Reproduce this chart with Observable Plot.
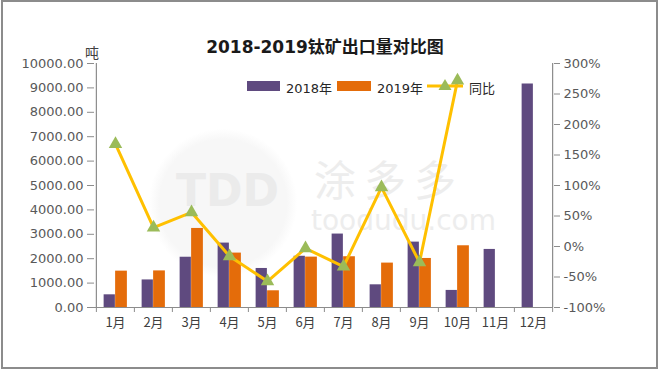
<!DOCTYPE html>
<html>
<head>
<meta charset="utf-8">
<script src="https://cdn.jsdelivr.net/npm/d3@7"></script>
<script src="https://cdn.jsdelivr.net/npm/@observablehq/plot@0.6"></script>
<style>
  html, body { margin: 0; padding: 0; background: #fff; }
  #wrap { position: relative; width: 660px; height: 370px; overflow: hidden; font-family: "DejaVu Sans", "Noto Sans CJK SC", sans-serif; }
  #wrap svg.plot { position: absolute; left: 0; top: 0; }
  .abs { position: absolute; white-space: nowrap; }
  #frame { position: absolute; left: 1px; top: 0px; width: 653px; height: 365px; border: 2px solid #8c8c8c; }
  #title { left: 0; width: 650px; top: 33px; text-align: center; font-size: 17px; font-weight: bold; color: #1a1a1a; }
  #unit { left: 85px; top: 42px; font-size: 14px; color: #404040; font-family: "Noto Sans CJK SC", sans-serif; }
  .lg { font-size: 13px; color: #262626; top: 78px; }
  .sw { position: absolute; height: 10px; top: 81px; }
  .wm { position: absolute; color: #eeeeee; white-space: nowrap; }
</style>
</head>
<body>
<div id="wrap">
  <div class="wm" style="left:148px;top:128px;width:150px;height:150px;border-radius:50%;border:0;background:radial-gradient(circle, #f7f7f7 0%, #f7f7f7 60%, rgba(255,255,255,0) 70%);"></div>
  <div class="wm" style="left:176px;top:166px;font-size:44px;line-height:50px;font-weight:bold;font-family:'DejaVu Sans';color:#ebebeb;">TDD</div>
  <div class="wm" style="left:314px;top:156px;font-size:42px;line-height:44px;font-family:'Noto Sans CJK SC';color:#ededed;letter-spacing:8px;">涂多多</div>
  <div class="wm" style="left:311px;top:207px;font-size:28px;line-height:28px;font-family:'DejaVu Sans';color:#ededed;">toodudu.com</div>
  <div id="chart"></div>
  <div id="frame"></div>
  <div id="title" class="abs">2018-2019钛矿出口量对比图</div>
  <div id="unit" class="abs">吨</div>
  <div class="sw" style="left:247px;width:33px;background:#5f4a7f;"></div>
  <div class="abs lg" style="left:286px;">2018年</div>
  <div class="sw" style="left:337px;width:34px;background:#e46c0a;"></div>
  <div class="abs lg" style="left:377px;">2019年</div>
  <svg class="abs" style="left:425px;top:74px;" width="40" height="24">
    <line x1="2" y1="12" x2="38" y2="12" stroke="#ffc000" stroke-width="3"/>
    <path d="M20,5 L26.5,16 L13.5,16 Z" fill="#9bbb59"/>
  </svg>
  <div class="abs lg" style="left:469px;">同比</div>
</div>
<script>
const months = ["1月","2月","3月","4月","5月","6月","7月","8月","9月","10月","11月","12月"];
const v2018 = [520, 1130, 2060, 2640, 1600, 2100, 3010, 930, 2680, 700, 2380, 9160];
const v2019 = [1490, 1500, 3240, 2230, 685, 2065, 2080, 1820, 2010, 2530, null, null];
const yoy = [168, 31, 56, -16, -57, -3, -33, 97, -26, 272];
const leftTicks = [0,1000,2000,3000,4000,5000,6000,7000,8000,9000,10000];
const rightTicks = [-100,-50,0,50,100,150,200,250,300];

const W = 660, H = 370, mL = 94, mR = 107, mT = 63, mB = 63;
const step = (W - mL - mR) / months.length;
const barW = 11.5;
const toLeft = p => (p + 100) * 25; // map percent onto the left (tonnage) scale

const bars18 = months.map((m, i) => ({m, v: v2018[i]})).filter(d => d.v != null);
const bars19 = months.map((m, i) => ({m, v: v2019[i]})).filter(d => d.v != null);
const line = yoy.map((p, i) => ({m: months[i], p}));

const half = step / 2;
const chart = Plot.plot({
  width: W, height: H,
  marginLeft: mL, marginRight: mR, marginTop: mT, marginBottom: mB,
  style: {fontFamily: "'DejaVu Sans', 'Noto Sans CJK SC', sans-serif", fontSize: "13px", background: "transparent"},
  x: {domain: months, padding: 0, axis: null},
  y: {domain: [0, 10000], axis: null},
  marks: [
    Plot.barY(bars18, {x: "m", y: "v", fill: "#5f4a7f", insetLeft: half - barW, insetRight: half}),
    Plot.barY(bars19, {x: "m", y: "v", fill: "#e46c0a", insetLeft: half, insetRight: half - barW - 0.5}),
    Plot.ruleY([0], {stroke: "#8c8c8c", strokeWidth: 1.2}),
    Plot.ruleX([months[0]], {dx: -half, stroke: "#8c8c8c", strokeWidth: 1.2}),
    Plot.ruleX([months[11]], {dx: half, stroke: "#8c8c8c", strokeWidth: 1.2}),
    Plot.axisY({anchor: "left", ticks: leftTicks, tickFormat: d3.format(".2f"), tickSize: 7, tickPadding: 4, label: null, stroke: "#8c8c8c", fill: "#595959", fontSize: 13}),
    Plot.axisY({anchor: "right", ticks: rightTicks.map(toLeft), tickFormat: d => Math.round(d / 25 - 100) + "%", tickSize: 6, tickPadding: 4, label: null, stroke: "#8c8c8c", fill: "#595959", fontSize: 13}),
    Plot.axisX({ticks: months, tickSize: 0, tickPadding: 10, label: null, fill: "#404040", fontSize: 13, fontFamily: "'Noto Sans CJK SC', sans-serif"}),
    Plot.axisX({ticks: months, dx: -half, tickSize: 5, tickFormat: () => "", label: null, stroke: "#8c8c8c"}),
    Plot.axisX({ticks: [months[11]], dx: half, tickSize: 5, tickFormat: () => "", label: null, stroke: "#8c8c8c"}),
    Plot.line(line, {x: "m", y: d => toLeft(d.p), stroke: "#ffc000", strokeWidth: 3}),
    Plot.dot(line, {x: "m", y: d => toLeft(d.p), symbol: "triangle", r: 5, fill: "#9bbb59", stroke: "none"})
  ]
});
chart.classList.add("plot");
document.getElementById("chart").appendChild(chart);
</script>
</body>
</html>
